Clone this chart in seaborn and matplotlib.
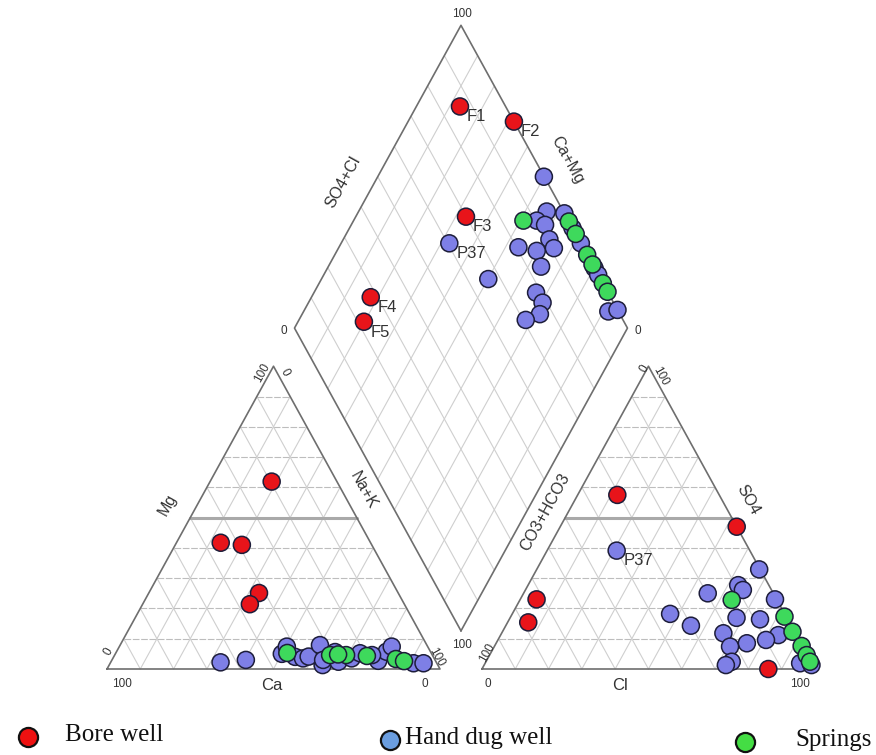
import numpy as np
import pandas as pd
import matplotlib
matplotlib.use("Agg")
import matplotlib.pyplot as plt
import seaborn as sns

# ---------------- data (percent values) ----------------
# Cation triangle: Mg %, Na+K %
cat_group = (["Bore well"] * 5 + ["Hand dug well"] * 20 + ["Springs"] * 7)
cat_mg = [61.9, 41.7, 41.0, 25.1, 21.4,
          2.2, 3.0, 5.0, 7.4, 4.0, 3.5, 4.1, 7.9, 1.3, 3.0, 2.4, 3.5, 5.2, 2.7, 5.7, 7.4, 1.9, 1.9, 5.6, 4.6,
          5.3, 4.6, 4.6, 4.3, 3.3, 2.6, 4.8]
cat_nak = [18.5, 13.3, 20.0, 33.1, 32.2,
           33.0, 40.2, 50.0, 50.3, 54.5, 57.1, 58.5, 60.0, 64.1, 63.4, 68.3, 71.7, 73.4, 80.1, 81.1, 81.8, 91.1, 94.1, 65.7, 77.3,
           51.5, 64.7, 69.5, 75.9, 85.1, 87.9, 67.0]

# Anion triangle: SO4 %, Cl %
an_group = (["Bore well"] * 5 + ["Hand dug well"] * 19 + ["Springs"] * 6)
an_so4 = [57.5, 47.0, 23.0, 15.4, 0.0,
          39.1, 32.9, 27.7, 26.1, 25.0, 23.0, 18.2, 14.3, 16.9, 16.4, 11.8, 11.2, 9.6, 8.5, 7.4, 2.4, 1.3, 1.9, 1.3,
          22.8, 17.3, 12.3, 7.6, 4.6, 2.4]
an_cl = [11.9, 53.0, 4.9, 6.2, 86.0,
         20.9, 66.8, 63.1, 65.3, 55.3, 76.5, 47.4, 55.6, 68.0, 75.3, 66.6, 83.4, 80.5, 75.3, 70.8, 73.8, 72.6, 94.6, 98.3,
         63.6, 82.2, 87.1, 92.2, 95.2, 97.3]
an_labels = [""] * 5 + ["P37"] + [""] * 24

# Diamond: Ca+Mg %, SO4+Cl %
dia_group = (["Bore well"] * 5 + ["Hand dug well"] * 22 + ["Springs"] * 7)
dia_camg = [86.9, 68.2, 66.9, 82.2, 80.2,
            67.5, 50.1, 43.5, 45.0, 41.8, 37.9, 46.1, 38.1, 35.3, 40.0, 36.1, 49.9, 33.3, 29.7, 28.6, 31.9, 8.5, 6.0,
            28.0, 19.8, 17.6, 33.0,
            49.0, 35.2, 31.1, 24.2, 21.0, 14.8, 12.0]
dia_so4cl = [86.3, 100.0, 69.9, 28.0, 21.9,
             60.5, 99.9, 95.0, 90.5, 92.3, 100.0, 80.6, 91.2, 91.1, 85.5, 84.2, 66.3, 78.4, 78.7, 76.0, 70.8, 97.0, 100.0,
             100.0, 100.0, 100.0, 100.0,
             86.5, 100.0, 100.0, 100.0, 100.0, 100.0, 100.0]
dia_labels = ["F1", "F2", "F3", "F4", "F5", "P37"] + [""] * 28

group_names = ["Bore well", "Hand dug well", "Springs"]
point_colors = {"Bore well": "#e8141a", "Hand dug well": "#7e7fe6", "Springs": "#3ed95c"}
legend_colors = {"Bore well": "#ee1111", "Hand dug well": "#6b9ee0", "Springs": "#44dd44"}

# ---------------- geometry ----------------
H = np.sqrt(3) / 2
GAP = 0.126
RX = 1 + GAP                       # origin of anion triangle
BOT = np.array([1 + GAP / 2, GAP * H])  # bottom of diamond
U = np.array([-0.5, H])
V = np.array([0.5, H])

def cation_xy(mg, nak):
    mg = np.asarray(mg) / 100; nak = np.asarray(nak) / 100
    return nak + 0.5 * mg, H * mg

def anion_xy(so4, cl):
    so4 = np.asarray(so4) / 100; cl = np.asarray(cl) / 100
    return RX + cl + 0.5 * so4, H * so4

def diamond_xy(camg, so4cl):
    a = np.asarray(camg) / 100; b = np.asarray(so4cl) / 100
    return BOT[0] + 0.5 * (b - a), BOT[1] + H * (a + b)

frames = []
x, y = cation_xy(cat_mg, cat_nak)
frames.append(pd.DataFrame({"x": x, "y": y, "group": cat_group, "label": ""}))
x, y = anion_xy(an_so4, an_cl)
frames.append(pd.DataFrame({"x": x, "y": y, "group": an_group, "label": an_labels}))
x, y = diamond_xy(dia_camg, dia_so4cl)
frames.append(pd.DataFrame({"x": x, "y": y, "group": dia_group, "label": dia_labels}))
df = pd.concat(frames, ignore_index=True)

# ---------------- figure ----------------
sns.set_theme(style="white")
plt.rcParams["font.family"] = ["Liberation Sans", "DejaVu Sans"]

W, Hpx = 876, 755
fig = plt.figure(figsize=(W / 100, Hpx / 100), dpi=100)
ax = fig.add_axes([0, 0, 1, 1])
sx, sy = 333.0, 349.6
x0px, y0px = 107.0, 669.0
ax.set_xlim(-x0px / sx, (W - x0px) / sx)
ax.set_ylim((y0px - Hpx) / sy, y0px / sy)
ax.axis("off")

def px(xp, yp):
    return (xp - x0px) / sx, (y0px - yp) / sy

grid_c = "#cfcfcf"
hgrid_c = "#bdbdbd"
edge_c = "#6e6e6e"

def triangle(ox):
    for i in range(1, 10):
        t = i / 10
        ax.plot([ox + t / 2, ox + 1 - t / 2], [t * H, t * H], color=hgrid_c, lw=0.8, zorder=1,
                ls=(0, (6, 1.5)))
        ax.plot([ox + t, ox + t + (1 - t) / 2], [0, (1 - t) * H], color=grid_c, lw=0.8, zorder=1)
        ax.plot([ox + t, ox + t / 2], [0, t * H], color=grid_c, lw=0.8, zorder=1)
    ax.plot([ox + 0.25, ox + 0.75], [0.5 * H, 0.5 * H], color="#a9a9a9", lw=2.2, zorder=1)
    ax.plot([ox, ox + 1, ox + 0.5, ox], [0, 0, H, 0], color=edge_c, lw=1.2, zorder=2)

triangle(0)
triangle(RX)

for i in range(1, 10):
    t = i / 10
    p = BOT + t * U; q = p + V
    ax.plot([p[0], q[0]], [p[1], q[1]], color=grid_c, lw=0.8, zorder=1)
    p = BOT + t * V; q = p + U
    ax.plot([p[0], q[0]], [p[1], q[1]], color=grid_c, lw=0.8, zorder=1)
L = BOT + U; R = BOT + V; T = BOT + U + V
ax.plot([BOT[0], L[0], T[0], R[0], BOT[0]], [BOT[1], L[1], T[1], R[1], BOT[1]], color=edge_c, lw=1.2, zorder=2)

# ---------------- points ----------------
sns.scatterplot(data=df, x="x", y="y", hue="group", hue_order=group_names, palette=point_colors,
                s=150, edgecolor="#1d1d3a", linewidth=1.1, legend=False, ax=ax, zorder=5)

for _, r in df[df["label"] != ""].iterrows():
    ax.annotate(r["label"], (r["x"], r["y"]), xytext=(5, -2), textcoords="offset points",
                ha="left", va="top", fontsize=12, color="#333333", zorder=6)

# ---------------- axis texts ----------------
tc = "#333333"
def t(xp, yp, s, size=8.5, rot=0):
    ax.text(*px(xp, yp), s, ha="center", va="center", fontsize=size, rotation=rot, color=tc,
            rotation_mode="anchor")

ROT = 61
# diamond
t(462, 14, "100"); t(284, 331, "0"); t(638, 331, "0"); t(462, 645, "100")
t(343, 182, "SO4+Cl", 11.5, ROT); t(567, 160, "Ca+Mg", 11.5, -ROT)
# cation triangle
t(122, 684, "100"); t(425, 684, "0"); t(272, 685, "Ca", 12)
t(108, 652, "0", 8.5, ROT); t(262, 373, "100", 8.5, ROT); t(168, 505, "Mg", 11.5, ROT)
t(285, 372, "0", 8.5, -ROT); t(436, 657, "100", 8.5, -ROT); t(363, 490, "Na+K", 11.5, -ROT)
# anion triangle
t(488, 684, "0"); t(800, 684, "100"); t(620, 685, "Cl", 12)
t(487, 653, "100", 8.5, ROT); t(644, 369, "0", 8.5, ROT); t(545, 512, "CO3+HCO3", 11.5, ROT)
t(660, 376, "100", 8.5, -ROT); t(748, 500, "SO4", 11.5, -ROT)

# ---------------- legend ----------------
leg = [("Bore well", 28, 737, 65), ("Hand dug well", 390, 740, 405), ("Springs", 745, 742, 795)]
for name, mx, my, tx in leg:
    ax.scatter(*px(mx, my), s=190, color=legend_colors[name], edgecolor="#111111", linewidth=1.6,
               zorder=6, clip_on=False)
    ax.text(*px(tx, my - 2), name, ha="left", va="center", fontsize=18,
            family=["Liberation Serif", "DejaVu Serif"], color="#111111")

fig.savefig("out.png", dpi=100)
